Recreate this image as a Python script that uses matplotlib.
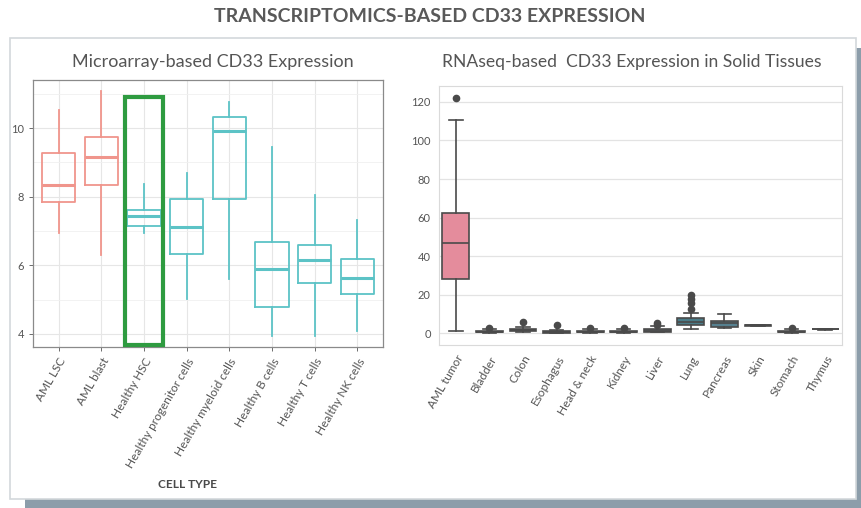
import matplotlib
matplotlib.use("Agg")
import matplotlib.pyplot as plt
from matplotlib.patches import Rectangle

plt.rcParams["font.family"] = ["Lato", "DejaVu Sans"]

# microarray panel (box stats)
cell_types = ["AML LSC", "AML blast", "Healthy HSC", "Healthy progenitor cells",
              "Healthy myeloid cells", "Healthy B cells", "Healthy T cells", "Healthy NK cells"]
ma_whislo = [6.95, 6.29, 6.95, 5.02, 5.61, 3.95, 3.95, 4.10]
ma_q1 = [7.85, 8.34, 7.14, 6.32, 7.92, 4.78, 5.49, 5.15]
ma_med = [8.34, 9.17, 7.43, 7.12, 9.90, 5.90, 6.15, 5.64]
ma_q3 = [9.27, 9.74, 7.61, 7.92, 10.31, 6.68, 6.60, 6.17]
ma_whishi = [10.54, 11.07, 8.37, 8.70, 10.75, 9.44, 8.05, 7.32]
ma_group = ["aml", "aml", "healthy", "healthy", "healthy", "healthy", "healthy", "healthy"]

# RNAseq panel
tissues = ["AML tumor", "Bladder", "Colon", "Esophagus", "Head & neck", "Kidney",
           "Liver", "Lung", "Pancreas", "Skin", "Stomach", "Thymus"]
rs_whislo = [0.9, 0.2, 0.6, 0.1, 0.2, 0.2, 0.3, 2.1, 2.8, 3.8, 0.2, 1.8]
rs_q1 = [28.2, 0.4, 0.9, 0.2, 0.4, 0.3, 0.6, 4.2, 3.1, 3.9, 0.4, 1.9]
rs_med = [46.9, 0.7, 1.4, 0.5, 0.7, 0.6, 1.2, 6.0, 5.0, 4.0, 0.7, 2.0]
rs_q3 = [62.3, 1.2, 2.2, 0.9, 1.1, 1.0, 2.3, 7.8, 6.2, 4.1, 1.2, 2.1]
rs_whishi = [110.5, 2.0, 3.4, 1.8, 2.0, 1.9, 3.5, 10.4, 9.8, 4.2, 1.9, 2.2]
rs_fliers = [[122.0], [2.6], [5.8], [4.2], [2.8], [2.6], [4.2, 5.0],
             [12.5, 15.6, 17.7, 19.7], [], [], [2.4], []]
rs_colors = ["#E48C9C", "#5C6468", "#5C6468", "#5C6468", "#5C6468", "#5C6468",
             "#5C6468", "#4A7C88", "#56808F", "#5C6468", "#5C6468", "#5C6468"]

W, H = 861, 508
fig = plt.figure(figsize=(W / 100, H / 100), dpi=100)
fig.patch.set_facecolor("white")


def px_axes(x0, y0, x1, y1):
    return fig.add_axes([x0 / W, 1 - y1 / H, (x1 - x0) / W, (y1 - y0) / H])


# panel frame and its shadow
fig.add_artist(Rectangle((25 / W, 0), 1 - 25 / W, 9 / H, transform=fig.transFigure,
                         facecolor="#8C9DAA", edgecolor="none", zorder=0))
fig.add_artist(Rectangle((856 / W, 0), 5 / W, 1 - 48 / H, transform=fig.transFigure,
                         facecolor="#8C9DAA", edgecolor="none", zorder=0))
fig.add_artist(Rectangle((10 / W, 1 - 499 / H), 846 / W, 461 / H, transform=fig.transFigure,
                         facecolor="white", edgecolor="#D3D8DB", lw=1.2, zorder=0))

fig.text(430 / W, 1 - 17 / H, "TRANSCRIPTOMICS-BASED CD33 EXPRESSION", ha="center",
         va="center", fontsize=14, fontweight="bold", color="#595959")

# ---- left: microarray ----
ax1 = px_axes(33, 80, 383, 347)
stats = []
for i, name in enumerate(cell_types):
    stats.append(dict(label=name, whislo=ma_whislo[i], q1=ma_q1[i], med=ma_med[i],
                      q3=ma_q3[i], whishi=ma_whishi[i], fliers=[]))
colors = {"aml": "#F0958C", "healthy": "#5CC3C6"}
for i, st in enumerate(stats):
    c = colors[ma_group[i]]
    ax1.bxp([st], positions=[i], widths=0.78, showfliers=False, showcaps=False,
            boxprops=dict(color=c, lw=1.3), whiskerprops=dict(color=c, lw=1.3),
            medianprops=dict(color=c, lw=2.2))
ax1.set_xlim(-0.6, 7.6)
ax1.set_ylim(3.62, 11.4)
ax1.set_yticks([4, 6, 8, 10])
ax1.set_yticks([5, 7, 9, 11], minor=True)
ax1.set_xticks(range(len(cell_types)))
ax1.set_xticklabels(cell_types, rotation=60, ha="right", rotation_mode="anchor")
ax1.grid(True, which="major", color="#E6E6E6", lw=0.8)
ax1.grid(True, which="minor", axis="y", color="#F0F0F0", lw=0.6)
ax1.set_axisbelow(True)
ax1.tick_params(labelsize=8.5, colors="#555555", length=3, width=0.6)
ax1.tick_params(axis="y", labelsize=8)
ax1.tick_params(which="minor", length=0)
for s in ax1.spines.values():
    s.set_color("#8A8A8A")
    s.set_linewidth(0.9)
ax1.add_patch(Rectangle((1.55, 3.68), 0.9, 7.22, fill=False, edgecolor="#2E9B40",
                        lw=3, clip_on=False, zorder=5))
ax1.set_title("Microarray-based CD33 Expression", fontsize=13, color="#555555",
              pad=9, x=0.514)
fig.text(187 / W, 1 - 485 / H, "CELL TYPE", ha="center", va="center", fontsize=8.5,
         fontweight="bold", color="#4A4A4A")

# ---- right: RNAseq ----
ax2 = px_axes(439, 86, 842, 345)
for i, name in enumerate(tissues):
    st = dict(label=name, whislo=rs_whislo[i], q1=rs_q1[i], med=rs_med[i],
              q3=rs_q3[i], whishi=rs_whishi[i], fliers=rs_fliers[i])
    ax2.bxp([st], positions=[i], widths=0.8, patch_artist=True,
            boxprops=dict(facecolor=rs_colors[i], edgecolor="#4A4A4A", lw=1.2),
            whiskerprops=dict(color="#4A4A4A", lw=1.2),
            capprops=dict(color="#4A4A4A", lw=1.2),
            medianprops=dict(color="#4A4A4A", lw=1.2),
            flierprops=dict(marker="o", markerfacecolor="#4A4A4A",
                            markeredgecolor="#4A4A4A", markersize=4.5))
ax2.set_xlim(-0.5, 11.5)
ax2.set_ylim(-6.2, 128.3)
ax2.set_yticks(range(0, 121, 20))
ax2.set_xticks(range(len(tissues)))
ax2.set_xticklabels(tissues, rotation=60, ha="right", rotation_mode="anchor")
ax2.grid(True, axis="y", color="#E3E3E3", lw=0.9)
ax2.set_axisbelow(True)
ax2.tick_params(labelsize=8.5, colors="#555555", length=0, pad=6)
ax2.tick_params(axis="y", labelsize=8)
for s in ax2.spines.values():
    s.set_color("#DADADA")
ax2.set_title("RNAseq-based  CD33 Expression in Solid Tissues", fontsize=12.6,
              color="#555555", pad=14, x=0.479)

fig.savefig("out.png", dpi=100)
